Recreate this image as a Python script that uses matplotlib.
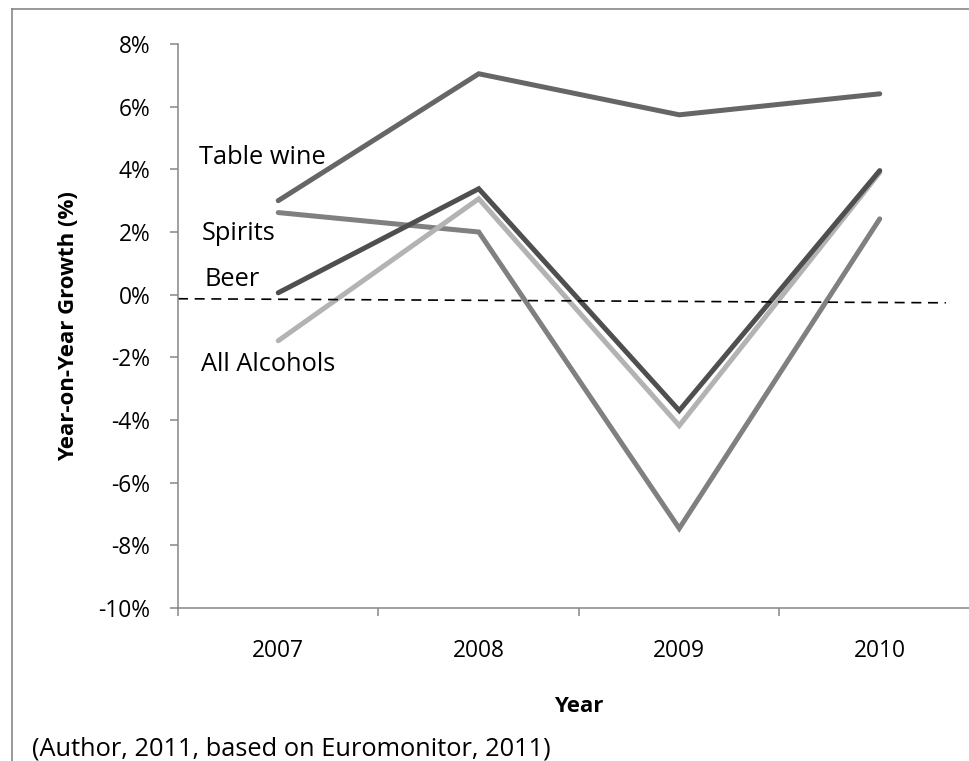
import matplotlib.pyplot as plt
from matplotlib.lines import Line2D

# data (year-on-year growth, %)
years = ["2007", "2008", "2009", "2010"]
table_wine = [3.0, 7.05, 5.74, 6.41]
spirits = [2.62, 2.0, -7.46, 2.42]
beer = [0.06, 3.38, -3.7, 3.96]
all_alcohols = [-1.47, 3.06, -4.18, 3.9]
yticks = [-10, -8, -6, -4, -2, 0, 2, 4, 6, 8]

# dashed reference line (start/end)
ref_x = [-0.5, 3.33]
ref_y = [-0.13, -0.26]

plt.rcParams['font.family'] = ['Open Sans', 'DejaVu Sans']

fig = plt.figure(figsize=(9.7, 7.61), dpi=100)
ax = fig.add_axes([178/970, 1 - 608/761, 802/970, 564/761])

x = range(len(years))
lw = 3.6
ax.plot(x, spirits, color='#808080', lw=lw, solid_capstyle='round', solid_joinstyle='miter')
ax.plot(x, all_alcohols, color='#b3b3b3', lw=lw, solid_capstyle='round', solid_joinstyle='miter')
ax.plot(x, beer, color='#4f4f4f', lw=lw, solid_capstyle='round', solid_joinstyle='miter')
ax.plot(x, table_wine, color='#666666', lw=lw, solid_capstyle='round', solid_joinstyle='miter')
ax.plot(ref_x, ref_y, color='black', lw=1.2, ls=(0, (6, 4)))

ax.set_xlim(-0.5, 3.5)
ax.set_ylim(-10, 8)
ax.set_yticks(yticks)
ax.set_yticklabels([f"{v}%" for v in yticks], fontsize=16.4)
ax.set_xticks(list(x))
ax.set_xticklabels(years, fontsize=16.4)
ax.set_xticks([-0.5, 0.5, 1.5, 2.5, 3.5], minor=True)
ax.tick_params(axis='x', which='major', length=0, pad=22)
ax.tick_params(axis='x', which='minor', length=6, width=1.1, color='#868686', direction='out')
ax.tick_params(axis='y', length=6, width=1.1, color='#868686', direction='out', pad=14)

for side in ['top', 'right']:
    ax.spines[side].set_visible(False)
for side in ['left', 'bottom']:
    ax.spines[side].set_color('#868686')
    ax.spines[side].set_linewidth(1.1)

ax.set_ylabel("Year-on-Year Growth (%)", fontsize=16, fontweight='bold', labelpad=14)
ax.set_xlabel("Year", fontsize=16, fontweight='bold', labelpad=24)

# series labels
lbl = dict(fontsize=18.3, ha='left', va='baseline')
ax.text(-0.394, 4.18, "Table wine", **lbl)
ax.text(-0.384, 1.75, "Spirits", **lbl)
ax.text(-0.369, 0.29, "Beer", **lbl)
ax.text(-0.384, -2.44, "All Alcohols", **lbl)

fig.text(32/970, 1 - 756/761, "(Author, 2011, based on Euromonitor, 2011)",
         fontsize=18.3, ha='left', va='baseline')

# frame around the figure
bx, by = 12/970, 1 - 8.5/761
fig.add_artist(Line2D([bx, bx], [-0.1, by], color='#878787', lw=1.2))
fig.add_artist(Line2D([bx, 1.1], [by, by], color='#878787', lw=1.2))

fig.savefig("out.png", dpi=100)
